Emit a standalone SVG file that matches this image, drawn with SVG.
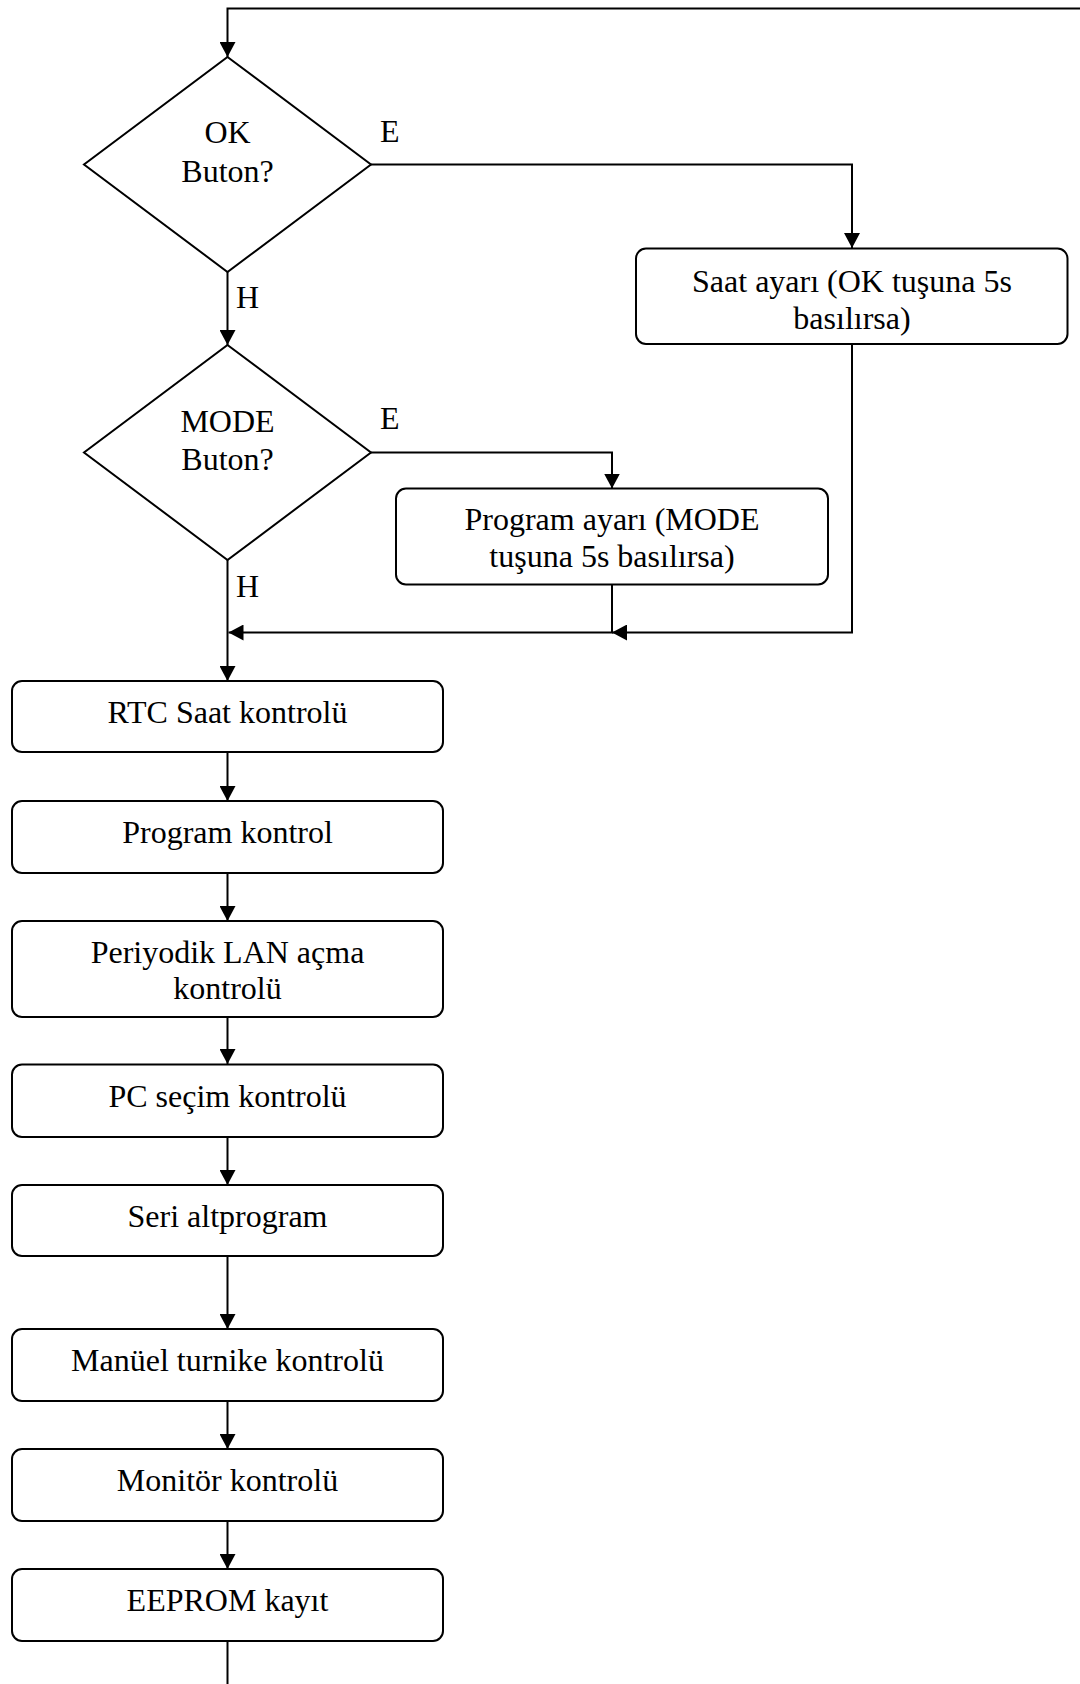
<svg xmlns="http://www.w3.org/2000/svg" width="1080" height="1684" viewBox="0 0 1080 1684">
  <defs>
    <style>
      .shape { fill: #ffffff; stroke: #000000; stroke-width: 2; }
      .wire { fill: none; stroke: #000000; stroke-width: 2; }
      .arrow { marker-end: url(#head); }
      text { font-family: "Liberation Serif", "Times New Roman", serif; font-size: 32px; fill: #000000; }
      .c { text-anchor: middle; }
    </style>
    <marker id="head" viewBox="0 0 15 16" markerWidth="15" markerHeight="16" refX="15" refY="8" markerUnits="userSpaceOnUse" orient="auto">
      <path d="M0,0 L15,8 L0,16 z" fill="#000000"/>
    </marker>
  </defs>

  <rect width="1080" height="1684" fill="#ffffff"/>

  <!-- connectors -->
  <g id="connectors">
    <path class="wire arrow" d="M1080,8.5 H227.5 V57"/>
    <path class="wire arrow" d="M227.5,272 V345"/>
    <path class="wire arrow" d="M371,164.5 H852 V248"/>
    <path class="wire arrow" d="M371,452.5 H612 V488.5"/>
    <path class="wire arrow" d="M227.5,560 V681"/>
    <path class="wire arrow" d="M852,344 V632.5 H612"/>
    <path class="wire arrow" d="M612,585 V632.5 H228.5"/>
    <path class="wire arrow" d="M227.5,752 V801"/>
    <path class="wire arrow" d="M227.5,873 V921"/>
    <path class="wire arrow" d="M227.5,1017 V1064"/>
    <path class="wire arrow" d="M227.5,1137 V1185"/>
    <path class="wire arrow" d="M227.5,1256 V1329"/>
    <path class="wire arrow" d="M227.5,1401 V1449"/>
    <path class="wire arrow" d="M227.5,1521 V1569"/>
    <path class="wire" d="M227.5,1641 V1684"/>
    <!-- branch labels -->
    <text x="380" y="142">E</text>
    <text x="236" y="308">H</text>
    <text x="380" y="429">E</text>
    <text x="236" y="597">H</text>
  </g>

  <!-- decisions -->
  <g id="ok-button">
    <polygon class="shape" points="227.5,57 371,164.5 227.5,272 84,164.5"/>
    <text class="c" x="227.5" y="143">OK</text>
    <text class="c" x="227.5" y="182">Buton?</text>
  </g>
  <g id="mode-button">
    <polygon class="shape" points="227.5,345 371,452.5 227.5,560 84,452.5"/>
    <text class="c" x="227.5" y="432">MODE</text>
    <text class="c" x="227.5" y="470">Buton?</text>
  </g>

  <!-- settings branches -->
  <g id="clock-setting">
    <rect class="shape" x="636" y="248.5" width="431.5" height="95.5" rx="10"/>
    <text class="c" x="852" y="292">Saat ayarı (OK tuşuna 5s</text>
    <text class="c" x="852" y="328.5">basılırsa)</text>
  </g>
  <g id="program-setting">
    <rect class="shape" x="396" y="488.5" width="432" height="96" rx="10"/>
    <text class="c" x="612" y="530">Program ayarı (MODE</text>
    <text class="c" x="612" y="567">tuşuna 5s basılırsa)</text>
  </g>

  <!-- main loop steps -->
  <g id="rtc-check">
    <rect class="shape" x="12" y="681" width="431" height="71" rx="10"/>
    <text class="c" x="227.5" y="723">RTC Saat kontrolü</text>
  </g>
  <g id="program-check">
    <rect class="shape" x="12" y="801" width="431" height="72" rx="10"/>
    <text class="c" x="227.5" y="843">Program kontrol</text>
  </g>
  <g id="lan-check">
    <rect class="shape" x="12" y="921" width="431" height="96" rx="10"/>
    <text class="c" x="227.5" y="962.5">Periyodik LAN açma</text>
    <text class="c" x="227.5" y="999">kontrolü</text>
  </g>
  <g id="pc-check">
    <rect class="shape" x="12" y="1064.5" width="431" height="72.5" rx="10"/>
    <text class="c" x="227.5" y="1106.5">PC seçim kontrolü</text>
  </g>
  <g id="serial">
    <rect class="shape" x="12" y="1185" width="431" height="71" rx="10"/>
    <text class="c" x="227.5" y="1227">Seri altprogram</text>
  </g>
  <g id="turnstile">
    <rect class="shape" x="12" y="1329" width="431" height="72" rx="10"/>
    <text class="c" x="227.5" y="1370.5">Manüel turnike kontrolü</text>
  </g>
  <g id="monitor">
    <rect class="shape" x="12" y="1449" width="431" height="72" rx="10"/>
    <text class="c" x="227.5" y="1490.5">Monitör kontrolü</text>
  </g>
  <g id="eeprom">
    <rect class="shape" x="12" y="1569" width="431" height="72" rx="10"/>
    <text class="c" x="227.5" y="1610.5">EEPROM kayıt</text>
  </g>
</svg>
